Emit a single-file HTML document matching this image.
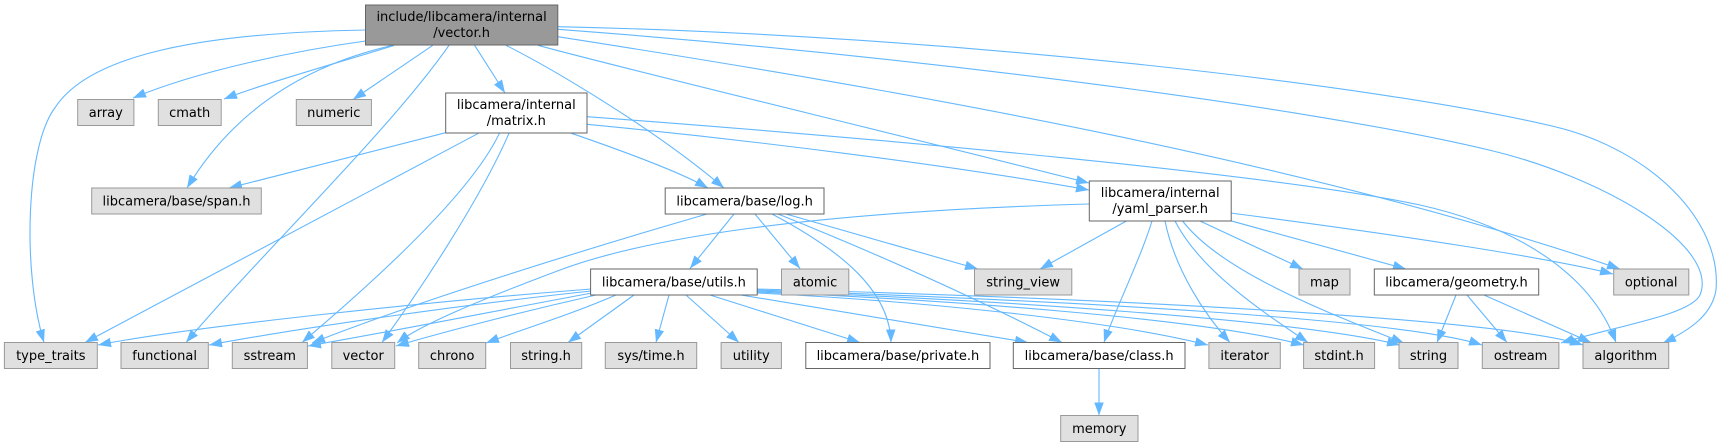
<!DOCTYPE html>
<html><head><meta charset="utf-8"><style>
html,body{margin:0;padding:0;background:#fff;}
svg{display:block;}
text{font-family:"DejaVu Sans","Liberation Sans",sans-serif;font-size:13px;fill:#000;text-anchor:middle;}
.e{fill:none;stroke:#63b8ff;stroke-width:1.1;marker-end:url(#a);}
.g{fill:#e0e0e0;stroke:#999999;stroke-width:1;}
.w{fill:#ffffff;stroke:#666666;stroke-width:1;}
.m{fill:#999999;stroke:#666666;stroke-width:1;}
</style></head><body>
<svg width="1729" height="447" viewBox="0 0 1729 447" xmlns="http://www.w3.org/2000/svg">
<defs><marker id="a" viewBox="0 0 13 9.5" refX="13" refY="4.75" markerWidth="13" markerHeight="9.5" markerUnits="userSpaceOnUse" orient="auto"><path d="M0,0 L13,4.75 L0,9.5 z" fill="#63b8ff"/></marker></defs>

<!-- edges from main -->
<path class="e" d="M365.5,41 C300,50 200,70 133,98"/>
<path class="e" d="M394,45.5 C330,65 260,85 224,99"/>
<path class="e" d="M432.8,45.3 L353,99.5"/>
<path class="e" d="M392,45.5 C320,62 240,100 187,188"/>
<path class="e" d="M365.5,30 C200,33 90,55 55.5,107 C26,145 22,270 44,342.5"/>
<path class="e" d="M449,45.3 C390,130 260,255 186,342.5"/>
<path class="e" d="M474.6,45.3 L505,93"/>
<path class="e" d="M506,45.3 C545,65 650,125 724,188"/>
<path class="e" d="M538,45.3 C620,68 900,135 1089,183"/>
<path class="e" d="M557.8,36.7 C900,90 1300,160 1620,269"/>
<path class="e" d="M557.8,29.3 C900,55 1300,105 1489,150 C1600,176 1720,245 1700,295 C1690,315 1620,325 1561,343"/>
<path class="e" d="M557.8,26.7 C950,35 1380,85 1556,127 C1650,150 1722,220 1716,290 C1712,315 1690,330 1663,343"/>

<!-- edges from matrix -->
<path class="e" d="M445.7,132.7 L229,188"/>
<path class="e" d="M478.4,133.3 L85,342.5"/>
<path class="e" d="M499.4,133.3 C470,195 370,285 302,342.5"/>
<path class="e" d="M509,133.3 C480,200 420,290 382,342.5"/>
<path class="e" d="M571.5,133.3 C620,150 680,172 708,188"/>
<path class="e" d="M587,124.3 C750,140 950,165 1089,190"/>
<path class="e" d="M587,116.7 C900,140 1280,175 1420,205 C1510,225 1590,270 1616,342.5"/>

<!-- edges from log.h -->
<path class="e" d="M707,214 C600,245 420,300 312,343"/>
<path class="e" d="M734,214 L690,268.5"/>
<path class="e" d="M755,214 L800,268.5"/>
<path class="e" d="M772,214 C840,250 890,290 891,342.5"/>
<path class="e" d="M778,214 C880,255 980,300 1062,342.5"/>
<path class="e" d="M786,214 L978,269"/>

<!-- edges from yaml_parser -->
<path class="e" d="M1089.3,204 C800,212 640,240 560,270 C480,300 420,325 397,343"/>
<path class="e" d="M1126.4,221 L1040,269"/>
<path class="e" d="M1152,221 C1140,260 1115,310 1104,342.5"/>
<path class="e" d="M1165,221 C1175,270 1205,315 1230,342.5"/>
<path class="e" d="M1175,221 C1200,270 1260,310 1308,342.5"/>
<path class="e" d="M1182.6,221 C1220,270 1320,310 1404,343"/>
<path class="e" d="M1200,221 L1303,269"/>
<path class="e" d="M1230.4,220.7 L1406,269"/>
<path class="e" d="M1230.4,213 C1400,235 1550,258 1613,274"/>

<!-- edges from utils.h -->
<path class="e" d="M591,289 C450,300 200,325 98,345"/>
<path class="e" d="M591,291 C460,305 300,328 209,345"/>
<path class="e" d="M592,293 C500,310 400,330 308,346"/>
<path class="e" d="M596,295 C530,310 450,330 396,346"/>
<path class="e" d="M616,295 C570,315 520,330 486,343"/>
<path class="e" d="M634,295 L568,342.5"/>
<path class="e" d="M669,295 L656,342.5"/>
<path class="e" d="M686,295 L739,342.5"/>
<path class="e" d="M710,295 L860,342.5"/>
<path class="e" d="M741,295 L1028,342.5"/>
<path class="e" d="M757,293 C900,300 1100,318 1208,345"/>
<path class="e" d="M757,292 C950,300 1200,318 1304,345"/>
<path class="e" d="M757,291 C1000,300 1300,320 1400,345"/>
<path class="e" d="M757,290 C1050,300 1400,318 1482,345"/>
<path class="e" d="M757,289 C1100,298 1500,318 1583,345"/>

<!-- geometry -->
<path class="e" d="M1456,295 L1437,342.5"/>
<path class="e" d="M1467,295 L1507,342.5"/>
<path class="e" d="M1484,295 L1591,342.5"/>

<!-- class -> memory -->
<path class="e" d="M1099,368.5 L1099,415.5"/>

<!-- nodes rank 0 -->
<rect class="m" x="365.5" y="5" width="192.3" height="40"/>
<text x="461.6" y="21">include/libcamera/internal</text>
<text x="461.6" y="37">/vector.h</text>

<!-- rank 1 -->
<rect class="g" x="77.7" y="99.5" width="56.2" height="26"/><text x="105.8" y="117">array</text>
<rect class="g" x="158.3" y="99.5" width="62.9" height="26"/><text x="189.7" y="117">cmath</text>
<rect class="g" x="296.3" y="99.5" width="75.1" height="26"/><text x="333.8" y="117">numeric</text>
<rect class="w" x="445.7" y="93" width="141.3" height="40"/>
<text x="516.3" y="109">libcamera/internal</text>
<text x="516.3" y="125">/matrix.h</text>

<!-- rank 2 -->
<rect class="g" x="91.7" y="188" width="169.6" height="26"/><text x="176.5" y="205.5">libcamera/base/span.h</text>
<rect class="w" x="665.2" y="188" width="158.8" height="26"/><text x="744.6" y="205.5">libcamera/base/log.h</text>
<rect class="w" x="1089.3" y="181" width="141.9" height="40"/>
<text x="1160.2" y="197">libcamera/internal</text>
<text x="1160.2" y="213">/yaml_parser.h</text>

<!-- rank 3 -->
<rect class="w" x="590.6" y="269" width="166.6" height="26"/><text x="673.9" y="286.5">libcamera/base/utils.h</text>
<rect class="g" x="781.5" y="269" width="67.3" height="26"/><text x="815.1" y="286.5">atomic</text>
<rect class="g" x="974.5" y="269" width="97.3" height="26"/><text x="1023.1" y="286.5">string_view</text>
<rect class="g" x="1299" y="269" width="51" height="26"/><text x="1324.5" y="286.5">map</text>
<rect class="w" x="1374.3" y="269" width="164.4" height="26"/><text x="1456.5" y="286.5">libcamera/geometry.h</text>
<rect class="g" x="1613.7" y="269" width="75.1" height="26"/><text x="1651.2" y="286.5">optional</text>

<!-- rank 4 -->
<rect class="g" x="4.4" y="342.5" width="92.9" height="26"/><text x="50.8" y="360">type_traits</text>
<rect class="g" x="121" y="342.5" width="87.3" height="26"/><text x="164.6" y="360">functional</text>
<rect class="g" x="232.3" y="342.5" width="75.1" height="26"/><text x="269.8" y="360">sstream</text>
<rect class="g" x="331.8" y="342.5" width="62.9" height="26"/><text x="363.2" y="360">vector</text>
<rect class="g" x="418.7" y="342.5" width="67" height="26"/><text x="452.2" y="360">chrono</text>
<rect class="g" x="510.5" y="342.5" width="71.2" height="26"/><text x="546.1" y="360">string.h</text>
<rect class="g" x="605.3" y="342.5" width="91.4" height="26"/><text x="651" y="360">sys/time.h</text>
<rect class="g" x="721.1" y="342.5" width="60.3" height="26"/><text x="751.2" y="360">utility</text>
<rect class="w" x="805.8" y="342.5" width="184.2" height="26"/><text x="897.9" y="360">libcamera/base/private.h</text>
<rect class="w" x="1013.3" y="342.5" width="171.7" height="26"/><text x="1099.1" y="360">libcamera/base/class.h</text>
<rect class="g" x="1208.9" y="342.5" width="71.4" height="26"/><text x="1244.6" y="360">iterator</text>
<rect class="g" x="1303.6" y="342.5" width="71" height="26"/><text x="1339.1" y="360">stdint.h</text>
<rect class="g" x="1399" y="342.5" width="59" height="26"/><text x="1428.5" y="360">string</text>
<rect class="g" x="1482.3" y="342.5" width="76.6" height="26"/><text x="1520.6" y="360">ostream</text>
<rect class="g" x="1583" y="342.5" width="85.7" height="26"/><text x="1625.8" y="360">algorithm</text>

<!-- rank 5 -->
<rect class="g" x="1060.7" y="415.5" width="77.3" height="26"/><text x="1099.3" y="433">memory</text>
</svg>
</body></html>
